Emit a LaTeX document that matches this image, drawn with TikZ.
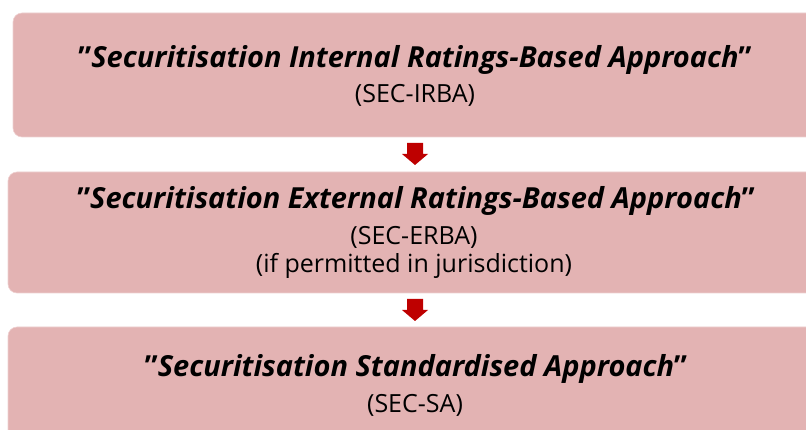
\documentclass[tikz,border=0pt]{standalone}
\usepackage{fontspec}
\setmainfont{Open Sans}
\usetikzlibrary{positioning}

\definecolor{boxpink}{RGB}{227,179,179}
\definecolor{arrowred}{RGB}{190,0,0}

\tikzset{
    approachbox/.style={fill=boxpink, draw=boxpink!60!white, line width=0.6pt, rounded corners=9pt},
    titletext/.style={font=\fontsize{29}{34}\selectfont\bfseries, inner sep=0pt, anchor=base},
    subtext/.style={font=\fontsize{25}{28}\selectfont, inner sep=0pt, anchor=base, align=center},
    downarrow/.style={fill=arrowred}
}

\begin{document}
\begin{tikzpicture}[x=1pt, y=-1pt]

        \useasboundingbox (0,0) rectangle (806,430);
        \clip (0,0) rectangle (806,430);

        % Approach boxes
        \draw[approachbox] (13,13) rectangle (830,137);
        \draw[approachbox] (8,172) rectangle (830,293);
        \draw[approachbox] (8,327) rectangle (830,460);

        % Down arrows
        \fill[downarrow] (407,143) -- (423,143) -- (423,154) -- (428,154) -- (415,165) -- (402,154) -- (407,154) -- cycle;
        \fill[downarrow] (407,299) -- (423,299) -- (423,310) -- (428,310) -- (415,321) -- (402,310) -- (407,310) -- cycle;

        \node[titletext] (irba) at (415, 68) {"\textit{Securitisation Internal Ratings-Based Approach}"};
        \node[subtext] (irbasub) at (415, 103) {(SEC-IRBA)};

        \node[titletext] (erba) at (416, 209) {"\textit{Securitisation External Ratings-Based Approach}"};
        \node[subtext] (erbasub) at (414, 273) {(SEC-ERBA)\\(if permitted in jurisdiction)};

        \node[titletext] (sa) at (416, 377) {"\textit{Securitisation Standardised Approach}"};
        \node[subtext] (sasub) at (415, 412) {(SEC-SA)};

\end{tikzpicture}
\end{document}
